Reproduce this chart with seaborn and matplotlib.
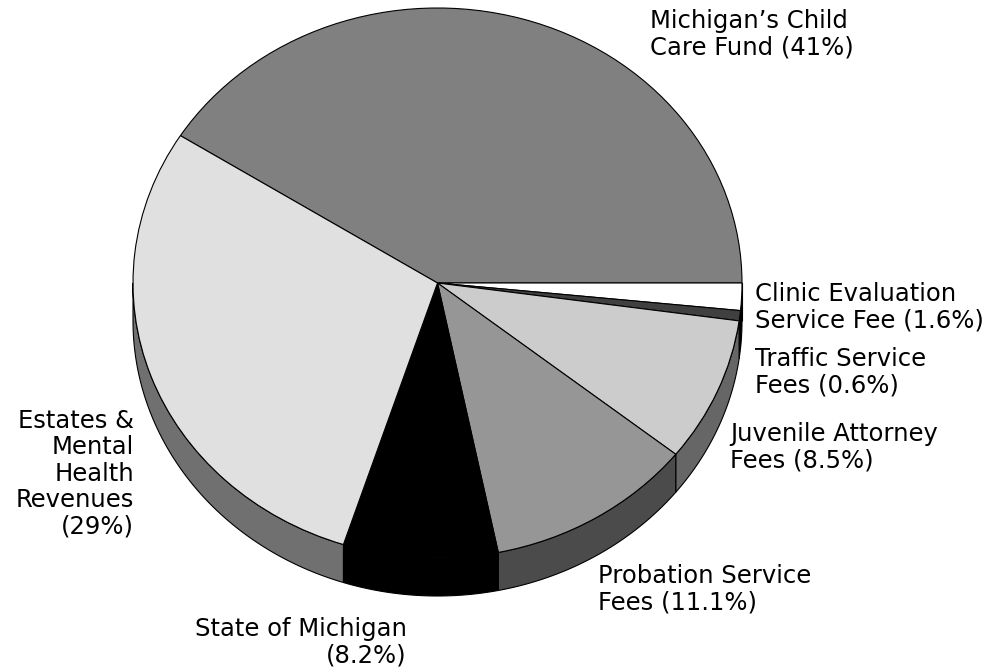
import numpy as np
import matplotlib
matplotlib.use("Agg")
import matplotlib.pyplot as plt
from matplotlib.patches import Polygon
import seaborn as sns

# ---- data ----
categories = ["Michigan\u2019s Child Care Fund", "Clinic Evaluation Service Fee",
              "Traffic Service Fees", "Juvenile Attorney Fees",
              "Probation Service Fees", "State of Michigan",
              "Estates & Mental Health Revenues"]
shares = [41.0, 1.6, 0.6, 8.5, 11.1, 8.2, 29.0]
label_texts = ["Michigan\u2019s Child\nCare Fund (41%)",
               "Clinic Evaluation\nService Fee (1.6%)",
               "Traffic Service\nFees (0.6%)",
               "Juvenile Attorney\nFees (8.5%)",
               "Probation Service\nFees (11.1%)",
               "State of Michigan\n(8.2%)",
               "Estates &\nMental\nHealth\nRevenues\n(29%)"]
top_colors = ["#808080", "#ffffff", "#404040", "#cccccc", "#969696", "#000000", "#e0e0e0"]
side_colors = ["#404040", "#000000", "#000000", "#666666", "#4b4b4b", "#000000", "#707070"]

# label anchor positions (pixels from top-left) and alignment
label_pos = [(650, 9, "left"), (755, 282, "left"), (755, 347, "left"),
             (730, 422, "left"), (598, 564, "left"), (407, 617, "right"),
             (134, 409, "right")]

sns.set_theme(style="white")
plt.rcParams["font.family"] = ["DejaVu Sans"]

W, H = 1008, 672
fig = plt.figure(figsize=(W / 100, H / 100), dpi=100)
ax = fig.add_axes([0, 0, 1, 1])

cx_px, cy_px = 437.5, 283.0
rx_px, ry_px = 304.5, 275.0
depth = 38.0 / ry_px

wedges, _ = ax.pie(shares, colors=top_colors, startangle=147.6, counterclock=False,
                   radius=1.0, center=(0, 0),
                   wedgeprops=dict(edgecolor="black", linewidth=0.8))
for w in wedges:
    w.set_zorder(3)

# side walls for the front half
for w, sc in zip(wedges, side_colors):
    t1, t2 = w.theta1, w.theta2
    for k in range(-2, 3):
        a = max(t1, 180 + 360 * k)
        b = min(t2, 360 + 360 * k)
        if b > a:
            t = np.radians(np.linspace(a, b, 80))
            top = np.column_stack([np.cos(t), np.sin(t)])
            bot = np.column_stack([np.cos(t[::-1]), np.sin(t[::-1]) - depth])
            poly = Polygon(np.vstack([top, bot]), closed=True, facecolor=sc,
                           edgecolor="black", linewidth=0.8, zorder=2)
            ax.add_patch(poly)

ax.set_aspect("auto")
ax.set_xlim(-cx_px / rx_px, (W - cx_px) / rx_px)
ax.set_ylim(-(H - cy_px) / ry_px, cy_px / ry_px)
ax.axis("off")

for txt, (px, py, ha) in zip(label_texts, label_pos):
    fig.text(px / W, 1 - py / H, txt, ha=ha, va="top", multialignment=ha,
             fontsize=17.5, color="black", linespacing=1.12)

fig.savefig("out.png", dpi=100, facecolor="white")
